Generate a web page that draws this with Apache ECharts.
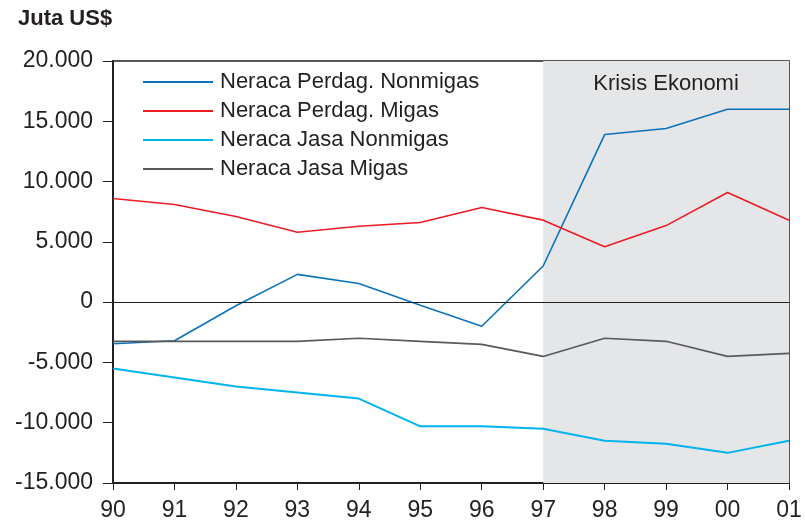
<!DOCTYPE html>
<html><head><meta charset="utf-8">
<script src="https://cdn.jsdelivr.net/npm/echarts@6/dist/echarts.min.js"></script>
<style>html,body{margin:0;padding:0;background:#fff}#c{width:805px;height:522px}</style>
</head><body><div id="c"></div>
<script>
const years = ['90','91','92','93','94','95','96','97','98','99','00','01'];
const yTicks = [-15000,-10000,-5000,0,5000,10000,15000,20000];
const perdagNonmigas = [-3450,-3200,-300,2300,1550,-250,-2000,3000,13900,14400,16000,16000];
const perdagMigas = [8600,8100,7100,5800,6300,6600,7850,6800,4600,6350,9100,6800];
const jasaNonmigas = [-5500,-6250,-7000,-7500,-8000,-10300,-10300,-10500,-11500,-11750,-12500,-11500];
const jasaMigas = [-3250,-3250,-3250,-3250,-3000,-3250,-3500,-4500,-3000,-3250,-4500,-4250];
const seriesNames = ['Neraca Perdag. Nonmigas','Neraca Perdag. Migas','Neraca Jasa Nonmigas','Neraca Jasa Migas'];
const crisisRange = ['97','01'];
const crisisLabel = 'Krisis Ekonomi';

function fmtNum(v){ if(v===0) return '0'; const s=Math.abs(v); const t=Math.floor(s/1000); const r=String(s%1000).padStart(3,'0'); return (v<0?'-':'')+t+'.'+r; }

const colors = ['#0b72ba','#ed1c24','#00b4ef','#58595b'];
const datas = [perdagNonmigas, perdagMigas, jasaNonmigas, jasaMigas];
const font = 'Liberation Sans, Arial, sans-serif';

const chart = echarts.init(document.getElementById('c'));
const series = datas.map((d,i)=>({
  name: seriesNames[i], type:'line', data:d, symbol:'none',
  lineStyle:{color:colors[i], width: i===2?2:1.6}, itemStyle:{color:colors[i]}, z:4
}));
series.push({
  type:'line', data:[], z:1, silent:true,
  markArea:{silent:true, itemStyle:{color:'#e5e6e8'},
    label:{show:true, position:'insideTop', distance:12, color:'#231f20', fontSize:22, fontFamily:font},
    data:[[{name:crisisLabel, xAxis:crisisRange[0]},{xAxis:crisisRange[1]}]]}
});
series.push({
  type:'line', data:[], z:3, silent:true,
  markLine:{silent:true, symbol:'none', label:{show:false}, lineStyle:{color:'#231f20', width:1, type:'solid'},
    data:[{yAxis:0}]}
});
chart.setOption({
  animation:false,
  title:{text:'Juta US$', left:13, top:3, textStyle:{fontFamily:font, fontSize:22, fontWeight:'bold', color:'#231f20'}},
  grid:{left:113, right:16, top:61, bottom:39, show:true, borderColor:'#231f20', borderWidth:1.5, backgroundColor:'transparent'},
  legend:{orient:'vertical', left:138, top:66, itemWidth:70, itemHeight:2, itemGap:7, icon:'rect',
    textStyle:{fontFamily:font, fontSize:22, lineHeight:22, color:'#231f20', padding:[0,0,0,2]},
    data:seriesNames},
  xAxis:{type:'category', data:years, boundaryGap:false,
    axisLine:{onZero:false, lineStyle:{color:'#231f20', width:2}},
    axisTick:{show:true, length:7, lineStyle:{color:'#231f20'}},
    axisLabel:{fontFamily:font, fontSize:23, color:'#231f20', margin:16},
    splitLine:{show:false}},
  yAxis:{type:'value', min:-15000, max:20000, interval:5000,
    axisLine:{show:true, lineStyle:{color:'#231f20', width:2}},
    axisTick:{show:true, length:10, lineStyle:{color:'#231f20'}},
    axisLabel:{fontFamily:font, fontSize:23, color:'#231f20', margin:20, formatter:fmtNum},
    splitLine:{show:false}},
  series
});
</script></body></html>
